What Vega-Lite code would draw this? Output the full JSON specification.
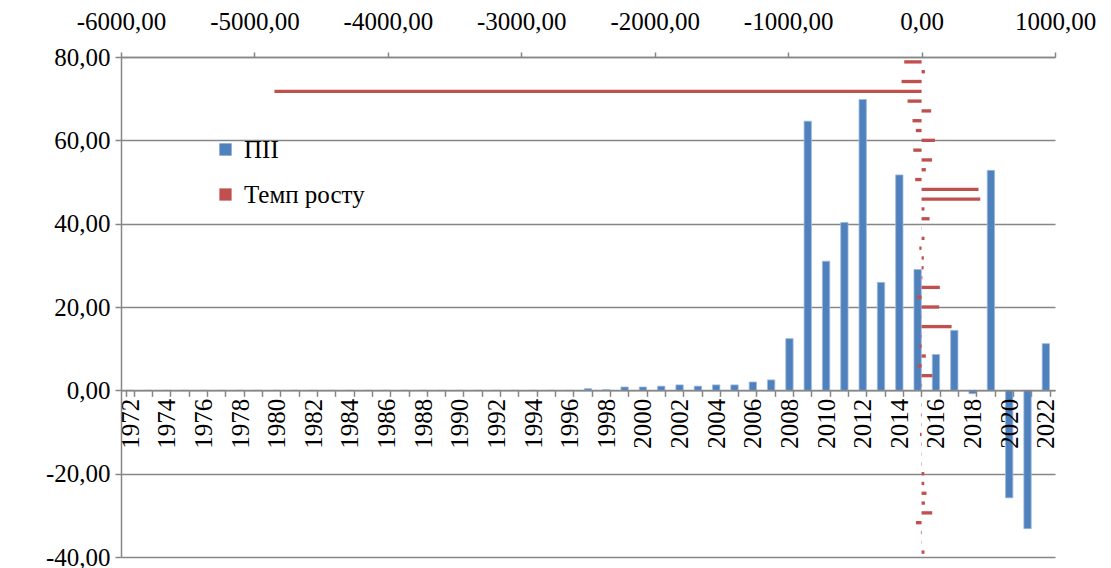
{
  "$schema": "https://vega.github.io/schema/vega-lite/v6.json",
  "width": 934,
  "height": 500,
  "autosize": {"type": "none"},
  "padding": {"left": 121, "top": 57, "right": 56, "bottom": 11},
  "background": "white",
  "config": {"view": {"stroke": null}, "font": "DejaVu Serif"},
  "data": {
    "values": [
      {"year": 1972, "fdi": 0, "rate": 22},
      {"year": 1973, "fdi": 0, "rate": 2},
      {"year": 1974, "fdi": 0, "rate": -5},
      {"year": 1975, "fdi": 0, "rate": -42},
      {"year": 1976, "fdi": 0, "rate": 80},
      {"year": 1977, "fdi": 0, "rate": 25},
      {"year": 1978, "fdi": 0, "rate": 37},
      {"year": 1979, "fdi": 0, "rate": 20},
      {"year": 1980, "fdi": 0, "rate": 20},
      {"year": 1981, "fdi": 0, "rate": 3},
      {"year": 1982, "fdi": 0, "rate": 2},
      {"year": 1983, "fdi": 0, "rate": 3},
      {"year": 1984, "fdi": 0, "rate": -12},
      {"year": 1985, "fdi": 0, "rate": 3},
      {"year": 1986, "fdi": 0, "rate": -5},
      {"year": 1987, "fdi": 0, "rate": 3},
      {"year": 1988, "fdi": 0, "rate": 3},
      {"year": 1989, "fdi": 0, "rate": 4},
      {"year": 1990, "fdi": 0, "rate": 82},
      {"year": 1991, "fdi": 0, "rate": -30},
      {"year": 1992, "fdi": 0, "rate": 32},
      {"year": 1993, "fdi": 0, "rate": -15},
      {"year": 1994, "fdi": 0, "rate": -3},
      {"year": 1995, "fdi": 0, "rate": 225},
      {"year": 1996, "fdi": 0, "rate": 2},
      {"year": 1997, "fdi": 0.4, "rate": 132},
      {"year": 1998, "fdi": 0.2, "rate": -35},
      {"year": 1999, "fdi": 0.8, "rate": 137},
      {"year": 2000, "fdi": 0.8, "rate": 6},
      {"year": 2001, "fdi": 1.0, "rate": 15},
      {"year": 2002, "fdi": 1.3, "rate": 17},
      {"year": 2003, "fdi": 1.0, "rate": -17},
      {"year": 2004, "fdi": 1.3, "rate": 22},
      {"year": 2005, "fdi": 1.3, "rate": 2},
      {"year": 2006, "fdi": 2.0, "rate": 60},
      {"year": 2007, "fdi": 2.5, "rate": 22},
      {"year": 2008, "fdi": 12.4, "rate": 440},
      {"year": 2009, "fdi": 64.6, "rate": 427},
      {"year": 2010, "fdi": 31.0, "rate": -48},
      {"year": 2011, "fdi": 40.3, "rate": 32},
      {"year": 2012, "fdi": 69.8, "rate": 78},
      {"year": 2013, "fdi": 25.9, "rate": -62},
      {"year": 2014, "fdi": 51.7, "rate": 100},
      {"year": 2015, "fdi": 29.0, "rate": -43},
      {"year": 2016, "fdi": 8.6, "rate": -68},
      {"year": 2017, "fdi": 14.4, "rate": 72},
      {"year": 2018, "fdi": -0.8, "rate": -105},
      {"year": 2019, "fdi": 52.8, "rate": -4850},
      {"year": 2020, "fdi": -25.8, "rate": -150},
      {"year": 2021, "fdi": -33.2, "rate": 25},
      {"year": 2022, "fdi": 11.2, "rate": -130}
    ]
  },
  "layer": [
    {
      "mark": {"type": "bar", "stroke": "#9DB9DC", "strokeWidth": 0.8},
      "encoding": {
        "x": {
          "field": "year",
          "type": "ordinal",
          "scale": {"paddingInner": 0.6, "paddingOuter": 0.3},
          "axis": {
            "orient": "bottom",
            "offset": -166.67,
            "zindex": 1,
            "title": null,
            "labelAngle": -90,
            "labelExpr": "datum.value % 2 == 0 ? datum.label : ''",
            "labelOverlap": false,
            "tickBand": "extent",
            "domainColor": "#868686",
            "domainWidth": 1.5,
            "tickColor": "#868686",
            "tickWidth": 1.5,
            "tickSize": 6,
            "labelFont": "Liberation Serif",
            "labelFontSize": 25,
            "labelColor": "#000000",
            "labelPadding": 2
          }
        },
        "y": {
          "field": "fdi",
          "type": "quantitative",
          "scale": {"domain": [-40, 80], "nice": false},
          "axis": {
            "values": [-40, -20, 0, 20, 40, 60, 80],
            "title": null,
            "grid": true,
            "gridColor": "#868686",
            "gridWidth": 1.5,
            "domainColor": "#868686",
            "domainWidth": 1.5,
            "tickColor": "#868686",
            "tickWidth": 1.5,
            "tickSize": 6,
            "labelPadding": 5,
            "labelFont": "Liberation Serif",
            "labelFontSize": 25,
            "labelColor": "#000000",
            "labelOverlap": false,
            "labelExpr": "(datum.value < 0 ? '-' : '') + replace(format(abs(datum.value), '.2f'), '.', ',')"
          }
        },
        "color": {
          "datum": "ПІІ",
          "type": "nominal",
          "scale": {"domain": ["ПІІ", "Темп росту"], "range": ["#4F81BD", "#C0504D"]},
          "legend": {
            "orient": "none",
            "legendX": 92,
            "legendY": 80,
            "title": null,
            "symbolType": "square",
            "symbolSize": 150,
            "symbolStrokeWidth": 0,
            "labelFont": "Liberation Serif",
            "labelFontSize": 25,
            "labelColor": "#000000",
            "labelOffset": 6,
            "rowPadding": 19,
            "padding": 0
          }
        }
      }
    },
    {
      "mark": {"type": "bar"},
      "encoding": {
        "y": {
          "field": "year",
          "type": "ordinal",
          "scale": {"reverse": true, "paddingInner": 0.66, "paddingOuter": 0.33},
          "axis": null
        },
        "x": {
          "field": "rate",
          "type": "quantitative",
          "scale": {"domain": [-6000, 1000], "nice": false},
          "axis": {
            "orient": "top",
            "values": [-6000, -5000, -4000, -3000, -2000, -1000, 0, 1000],
            "title": null,
            "grid": false,
            "domainColor": "#868686",
            "domainWidth": 1.5,
            "tickColor": "#868686",
            "tickWidth": 1.5,
            "tickSize": 5,
            "labelPadding": 18,
            "labelFlush": false,
            "labelOverlap": false,
            "labelFont": "Liberation Serif",
            "labelFontSize": 25,
            "labelColor": "#000000",
            "labelExpr": "(datum.value < 0 ? '-' : '') + replace(format(abs(datum.value), '.2f'), '.', ',')"
          }
        },
        "color": {"datum": "Темп росту", "type": "nominal"}
      }
    }
  ],
  "resolve": {"scale": {"x": "independent", "y": "independent"}}
}
